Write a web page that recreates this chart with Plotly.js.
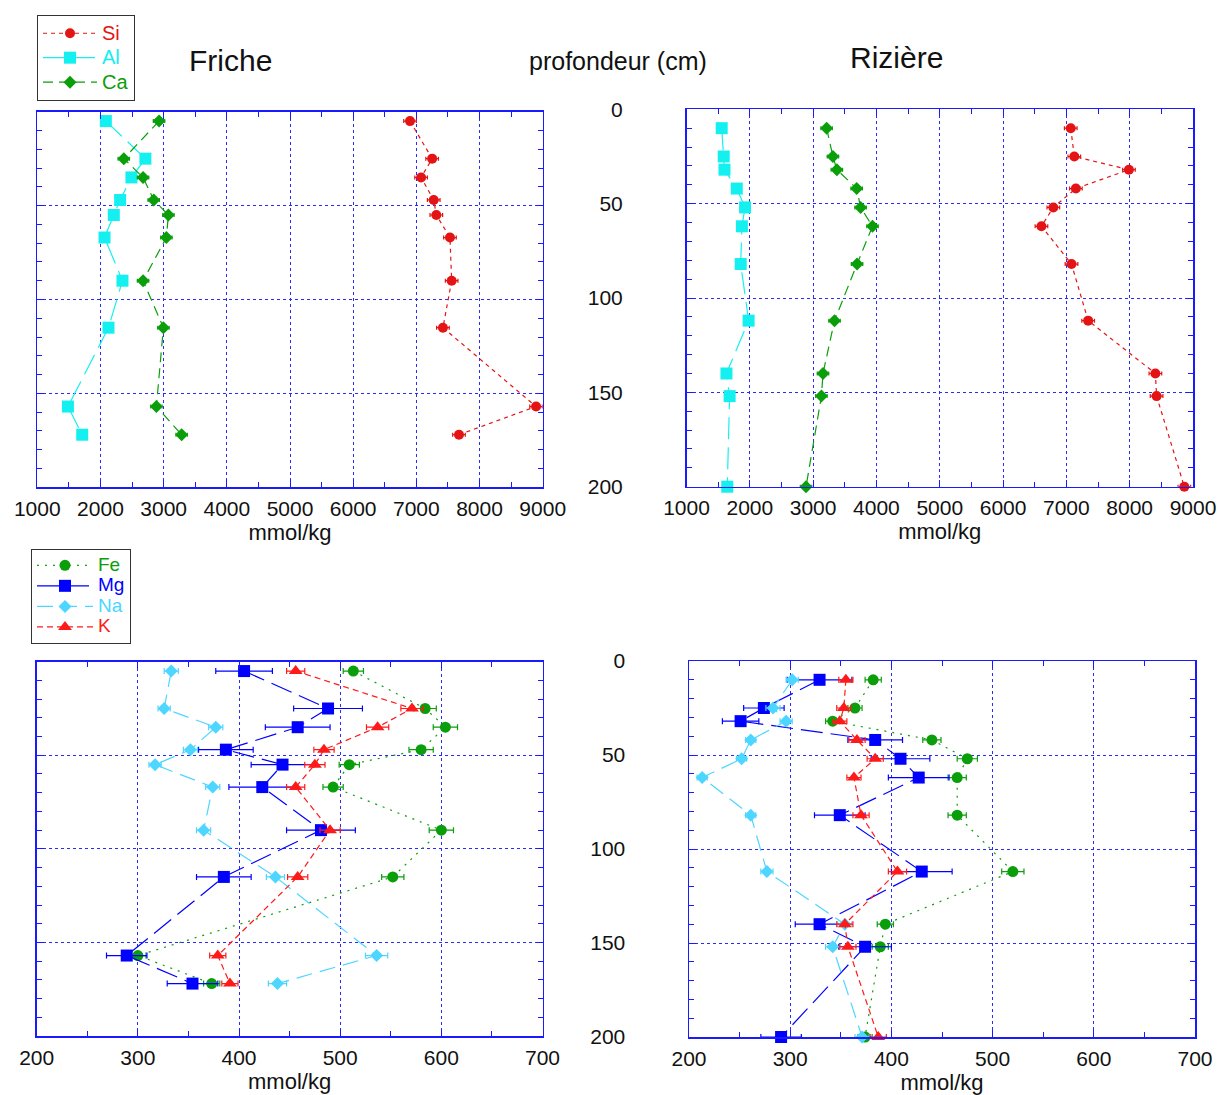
<!DOCTYPE html>
<html>
<head>
<meta charset="utf-8">
<script src="https://cdn.plot.ly/plotly-3.0.1.min.js"></script>
<style>html,body{margin:0;padding:0;background:#fff;}#chart{width:1218px;height:1095px;}</style>
</head>
<body>
<div id="chart"></div>
<script>
// ---------- data ----------
// depths (cm)
const depthFriche = [5, 25, 35, 47, 55, 67, 90, 115, 157, 172];
const depthRiziere = [10, 25, 32, 42, 52, 62, 82, 112, 140, 152, 200];

// major elements (mmol/kg) - Friche
const siFriche = [6900, 7250, 7075, 7275, 7316, 7532, 7559, 7421, 8895, 7675];
const alFriche = [2085, 2711, 2490, 2311, 2211, 2064, 2348, 2127, 1485, 1711];
const caFriche = [2927, 2369, 2674, 2843, 3075, 3043, 2674, 2996, 2885, 3285];
// major elements - Rizière
const siRiziere = [7069, 7125, 7988, 7150, 6794, 6606, 7081, 7344, 8406, 8425, 8863];
const alRiziere = [1556, 1588, 1600, 1794, 1925, 1875, 1856, 1981, 1631, 1681, 1644];
const caRiziere = [3213, 3313, 3375, 3688, 3750, 3938, 3694, 3338, 3156, 3131, 2888];

// minor elements (mmol/kg) - Friche
const feFriche = [513, 584, 604, 580, 509, 493, 600, 552, 300, 373];
const feFricheErr = [10, 11, 12, 12, 10, 10, 12, 11, 8, 8];
const mgFriche = [405, 488, 458, 387, 443, 423, 481, 385, 289, 354];
const mgFricheErr = [28, 34, 32, 27, 31, 33, 34, 27, 20, 25];
const naFriche = [333, 326, 377, 352, 317, 374, 365, 436, 536, 438];
const naFricheErr = [7, 6, 7, 7, 6, 7, 7, 9, 11, 9];
const kFriche = [456, 571, 537, 484, 475, 456, 490, 458, 379, 391];
const kFricheErr = [9, 11, 11, 10, 10, 9, 10, 10, 8, 8];
// minor elements - Rizière
const feRiziere = [382, 364, 342, 440, 475, 465, 465, 520, 394, 389, 374];
const feRiziereErr = [8, 7, 7, 9, 10, 9, 9, 11, 8, 8, 7];
const mgRiziere = [329, 274, 251, 384, 409, 427, 349, 430, 329, 374, 291];
const mgRiziereErr = [32, 20, 18, 27, 29, 30, 25, 30, 24, 26, 20];
const naRiziere = [302, 283, 296, 261, 252, 213, 261, 277, 354, 342, 371];
const naRiziereErr = [6, 7, 6, 5, 5, 5, 5, 6, 7, 7, 7];
const kRiziere = [355, 353, 349, 366, 384, 363, 370, 406, 354, 357, 387];
const kRiziereErr = [7, 7, 7, 8, 8, 7, 8, 9, 8, 8, 8];

// small analytical error on major elements (mmol/kg)
const siErr = 100;
const caErr = 90;

// ---------- styles ----------
const C = {
  si: '#e41414', al: '#14f0f0', ca: '#0a9e0a',
  fe: '#0a9e0a', mg: '#0000ff', na: '#4dd6ff', k: '#ff1a1a'
};
const FONT = 'Liberation Sans, Arial, Helvetica, sans-serif';
const lbl = (txt, col, sz) => '<span style="color:' + col + ';font-size:' + sz + 'px">' + txt + '</span>';

function tr(x, y, name, col, dash, sym, size, xa, ya, legend, showlegend, err, errW, lsz) {
  const t = {
    type: 'scatter', mode: 'lines+markers', x: x, y: y,
    name: lbl(name, col, lsz), legend: legend, showlegend: showlegend,
    xaxis: xa, yaxis: ya, cliponaxis: false,
    line: {color: col, width: 1.2, dash: dash},
    marker: {color: col, symbol: sym, size: size}
  };
  if (err !== null) {
    if (Array.isArray(err)) {
      t.error_x = {type: 'data', array: err, visible: true, color: col, thickness: 1.2, width: errW};
    } else {
      t.error_x = {type: 'constant', value: err, visible: true, color: col, thickness: 1.2, width: errW};
    }
  }
  return t;
}

const data = [
  tr(siFriche, depthFriche, 'Si', C.si, '4px,4px', 'circle', 10, 'x', 'y', 'legend', true, siErr, 2, 20),
  tr(alFriche, depthFriche, 'Al', C.al, '22px,8px', 'square', 12, 'x', 'y', 'legend', true, null, 0, 20),
  tr(caFriche, depthFriche, 'Ca', C.ca, '10px,6px', 'diamond', 10, 'x', 'y', 'legend', true, caErr, 2, 20),
  tr(siRiziere, depthRiziere, 'Si', C.si, '4px,4px', 'circle', 10, 'x2', 'y2', 'legend', false, siErr, 2, 20),
  tr(alRiziere, depthRiziere, 'Al', C.al, '22px,8px', 'square', 12, 'x2', 'y2', 'legend', false, null, 0, 20),
  tr(caRiziere, depthRiziere, 'Ca', C.ca, '10px,6px', 'diamond', 10, 'x2', 'y2', 'legend', false, caErr, 2, 20),

  tr(feFriche, depthFriche, 'Fe', C.fe, '2px,6px', 'circle', 11, 'x3', 'y3', 'legend2', true, feFricheErr, 3, 19),
  tr(mgFriche, depthFriche, 'Mg', C.mg, '22px,8px', 'square', 12, 'x3', 'y3', 'legend2', true, mgFricheErr, 3, 19),
  tr(naFriche, depthFriche, 'Na', C.na, '16px,8px', 'diamond', 10, 'x3', 'y3', 'legend2', true, naFricheErr, 3, 19),
  tr(kFriche, depthFriche, 'K', C.k, '6px,4px', 'triangle-up', 12, 'x3', 'y3', 'legend2', true, kFricheErr, 3, 19),
  tr(feRiziere, depthRiziere, 'Fe', C.fe, '2px,6px', 'circle', 11, 'x4', 'y4', 'legend2', false, feRiziereErr, 3, 19),
  tr(mgRiziere, depthRiziere, 'Mg', C.mg, '22px,8px', 'square', 12, 'x4', 'y4', 'legend2', false, mgRiziereErr, 3, 19),
  tr(naRiziere, depthRiziere, 'Na', C.na, '16px,8px', 'diamond', 10, 'x4', 'y4', 'legend2', false, naRiziereErr, 3, 19),
  tr(kRiziere, depthRiziere, 'K', C.k, '6px,4px', 'triangle-up', 12, 'x4', 'y4', 'legend2', false, kRiziereErr, 3, 19)
];

// ---------- axes ----------
const W = 1218, H = 1095;
const dx = (a, b) => [a / W, b / W];
const dy = (top, bot) => [1 - bot / H, 1 - top / H];

function xAxis(dom, range, dtick, minor, anchor, tickFont) {
  return {
    domain: dom, range: range, anchor: anchor, dtick: dtick, tick0: range[0],
    showline: true, linecolor: '#1a1aff', linewidth: 1.5, mirror: 'allticks',
    ticks: 'inside', ticklen: 7, tickcolor: '#1a1aff', tickwidth: 1,
    minor: {dtick: minor, ticks: 'inside', ticklen: 5, tickcolor: '#1a1aff', showgrid: false},
    showgrid: true, gridcolor: '#2a2aff', griddash: 'dot', gridwidth: 1,
    zeroline: false, ticklabelstandoff: 2,
    tickfont: tickFont,
    title: {text: 'mmol/kg', font: {family: FONT, size: 22, color: '#111'}, standoff: 0}
  };
}
function yAxis(dom, anchor, showLabels) {
  return {
    domain: dom, range: [200, 0], anchor: anchor, dtick: 50, tick0: 0,
    showline: true, linecolor: '#1a1aff', linewidth: 1.5, mirror: 'allticks',
    ticks: 'inside', ticklen: 7, tickcolor: '#1a1aff', tickwidth: 1,
    minor: {dtick: 10, ticks: 'inside', ticklen: 5, tickcolor: '#1a1aff', showgrid: false},
    showgrid: true, gridcolor: '#2a2aff', griddash: 'dot', gridwidth: 1,
    zeroline: false, showticklabels: showLabels, ticklabelstandoff: 58,
    tickfont: {family: FONT, size: 21, color: '#111'}
  };
}

const topTick = {family: FONT, size: 21, color: '#111'};
const botTick = {family: FONT, size: 21, color: '#111'};

const layout = {
  width: W, height: H,
  margin: {l: 0, r: 0, t: 0, b: 0},
  paper_bgcolor: '#fff', plot_bgcolor: '#fff',
  font: {family: FONT, size: 20, color: '#111'},
  xaxis: xAxis(dx(37.3, 542.7), [1000, 9000], 1000, 500, 'y', topTick),
  yaxis: yAxis(dy(111.7, 487.3), 'x', false),
  xaxis2: xAxis(dx(686.5, 1193), [1000, 9000], 1000, 500, 'y2', topTick),
  yaxis2: yAxis(dy(109.3, 486.7), 'x2', true),
  xaxis3: xAxis(dx(36.7, 542.5), [200, 700], 100, 50, 'y3', botTick),
  yaxis3: yAxis(dy(661.7, 1036), 'x3', false),
  xaxis4: xAxis(dx(689, 1195), [200, 700], 100, 50, 'y4', botTick),
  yaxis4: yAxis(dy(661, 1037), 'x4', true),
  legend: {
    x: 37 / W, y: 1 - 15 / H, xanchor: 'left', yanchor: 'top',
    bgcolor: '#fff', bordercolor: '#333', borderwidth: 1,
    font: {family: FONT, size: 16.5}, tracegroupgap: 0, itemwidth: 54
  },
  legend2: {
    x: 31 / W, y: 1 - 549 / H, xanchor: 'left', yanchor: 'top',
    bgcolor: '#fff', bordercolor: '#333', borderwidth: 1,
    font: {family: FONT, size: 13.5}, tracegroupgap: 0, itemwidth: 56
  },
  annotations: [
    {text: 'Friche', x: 230 / W, y: 1 - 60 / H, xref: 'paper', yref: 'paper', showarrow: false,
     font: {family: FONT, size: 30, color: '#111'}, xanchor: 'center', yanchor: 'middle'},
    {text: 'profondeur (cm)', x: 618 / W, y: 1 - 61 / H, xref: 'paper', yref: 'paper', showarrow: false,
     font: {family: FONT, size: 25, color: '#111'}, xanchor: 'center', yanchor: 'middle'},
    {text: 'Rizière', x: 896 / W, y: 1 - 57 / H, xref: 'paper', yref: 'paper', showarrow: false,
     font: {family: FONT, size: 30, color: '#111'}, xanchor: 'center', yanchor: 'middle'}
  ]
};

Plotly.newPlot('chart', data, layout, {displayModeBar: false, staticPlot: true});
</script>
</body>
</html>
